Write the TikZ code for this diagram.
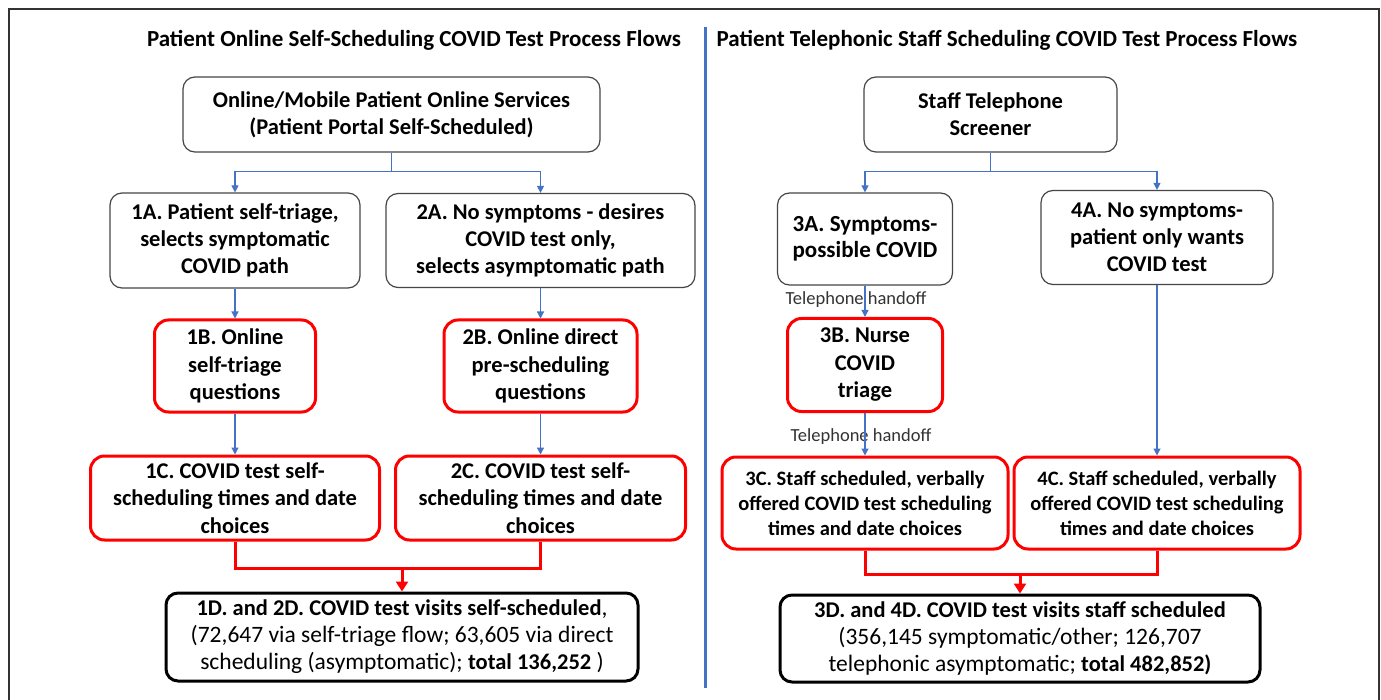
\documentclass[tikz,border=0pt]{standalone}
\usepackage{fontspec}
\setmainfont{Carlito}
\usetikzlibrary{arrows.meta}
\definecolor{blueln}{RGB}{68,114,196}
\definecolor{redln}{RGB}{255,0,0}
\definecolor{grayln}{RGB}{70,70,70}
\newcommand{\bfpart}[1]{{\fontsize{22.5pt}{27pt}\selectfont\bfseries #1}}
\begin{document}
\begin{tikzpicture}[x=1pt,y=-1pt,
  boxbase/.style={rounded corners=12pt, inner sep=0pt, align=center, text=black},
  gbox/.style={boxbase, draw=grayln, line width=1.2pt, font=\fontsize{22.5pt}{27pt}\selectfont\bfseries},
  rbox/.style={boxbase, draw=redln, line width=3pt, rounded corners=14pt, font=\fontsize{22.5pt}{27.5pt}\selectfont\bfseries},
  rboxs/.style={rbox, font=\fontsize{20.5pt}{25pt}\selectfont\bfseries},
  kbox/.style={boxbase, draw=black, line width=3pt, font=\fontsize{23.5pt}{27pt}\selectfont},
  titletext/.style={font=\fontsize{23pt}{27pt}\selectfont\bfseries, inner sep=0pt},
  handoff/.style={font=\fontsize{18.5pt}{21pt}\selectfont, text=black!80, inner sep=0pt},
  bluearrow/.style={draw=blueln, line width=1.2pt, -{Triangle[width=7pt,length=7pt]}},
  redline/.style={draw=redln, line width=3pt},
  redarrow/.style={draw=redln, line width=3pt, -{Triangle[width=12pt,length=10pt]}}
]
\useasboundingbox (0,0) rectangle (1381,700);
\fill[white] (0,0) rectangle (1381,700);
% frame
\draw[black!80, line width=2pt] (9,700) -- (9,9) -- (1379,9) -- (1379,700);
% divider
\draw[blueln, line width=3pt] (705,27) -- (705,688);
% titles
\node[titletext] (titleL) at (414,40) {Patient Online Self-Scheduling COVID Test Process Flows};
\node[titletext] (titleR) at (1007,40) {Patient Telephonic Staff Scheduling COVID Test Process Flows};

% left column
\node[gbox, minimum width=417pt, minimum height=75pt] (topL) at (391.5,114.5)
  {Online/Mobile Patient Online Services\\(Patient Portal Self-Scheduled)};
\node[gbox, minimum width=250pt, minimum height=95pt] (n1A) at (235,240.5)
  {1A. Patient self-triage,\\selects symptomatic\\COVID path};
\node[gbox, minimum width=309pt, minimum height=94pt] (n2A) at (540.5,240.5)
  {2A. No symptoms - desires\\COVID test only,\\selects asymptomatic path};
\node[rbox, minimum width=161pt, minimum height=92pt] (n1B) at (235,366)
  {1B. Online\\self-triage\\questions};
\node[rbox, minimum width=193pt, minimum height=92pt] (n2B) at (540.5,366)
  {2B. Online direct\\pre-scheduling\\questions};
\node[rbox, minimum width=289pt, minimum height=84pt] (n1C) at (235,498)
  {1C. COVID test self-\\scheduling times and date\\choices};
\node[rbox, minimum width=290pt, minimum height=84pt] (n2C) at (540.5,498)
  {2C. COVID test self-\\scheduling times and date\\choices};
\node[kbox, minimum width=472pt, minimum height=88pt] (n1D) at (402,637)
  {\bfpart{1D. and 2D. COVID test visits self-scheduled},\\(72,647 via self-triage flow; 63,605 via direct\\scheduling (asymptomatic); \bfpart{total 136,252} )};

% right column
\node[gbox, minimum width=253pt, minimum height=75pt] (topR) at (990.5,114.5)
  {Staff Telephone\\Screener};
\node[gbox, minimum width=175pt, minimum height=92pt, font=\fontsize{23pt}{26pt}\selectfont\bfseries] (n3A) at (865,239)
  {3A. Symptoms-\\possible COVID};
\node[gbox, minimum width=232pt, minimum height=94pt] (n4A) at (1157,237.5)
  {4A. No symptoms-\\patient only wants\\COVID test};
\node[rbox, minimum width=155pt, minimum height=93pt] (n3B) at (865,365)
  {3B. Nurse\\COVID\\triage};
\node[rboxs, minimum width=286pt, minimum height=92pt] (n3C) at (865,503)
  {3C. Staff scheduled, verbally\\offered COVID test scheduling\\times and date choices};
\node[rboxs, minimum width=286pt, minimum height=92pt] (n4C) at (1157,503)
  {4C. Staff scheduled, verbally\\offered COVID test scheduling\\times and date choices};
\node[kbox, minimum width=480pt, minimum height=87pt] (n3D) at (1020,638.5)
  {\bfpart{3D. and 4D. COVID test visits staff scheduled}\\(356,145 symptomatic/other; 126,707\\telephonic asymptomatic; \bfpart{total 482,852)}};

% handoff labels
\node[handoff] (ho1) at (856,300) {Telephone handoff};
\node[handoff] (ho2) at (861,437) {Telephone handoff};

% left connectors
\draw[bluearrow] (topL.south) -- ++(0,19) -| (n1A.north);
\draw[bluearrow] (topL.south) -- ++(0,19) -| (n2A.north);
\draw[bluearrow] (n1A.south) -- (n1B.north);
\draw[bluearrow] (n2A.south) -- (n2B.north);
\draw[bluearrow] (n1B.south) -- (n1C.north);
\draw[bluearrow] (n2B.south) -- (n2C.north);
\draw[redline] (n1C.south) -- ++(0,27) coordinate (mL) -| (n2C.south);
\coordinate (mLa) at (n1D.north |- mL);
\draw[redarrow] (mLa) -- (n1D.north);

% right connectors
\draw[bluearrow] (topR.south) -- ++(0,19) -| (n3A.north);
\draw[bluearrow] (topR.south) -- ++(0,19) -| (n4A.north);
\draw[bluearrow] (n3A.south) -- (n3B.north);
\draw[bluearrow] (n3B.south) -- (n3C.north);
\draw[bluearrow] (n4A.south) -- (n4C.north);
\draw[redline] (n3C.south) -- ++(0,24) coordinate (mR) -| (n4C.south);
\coordinate (mRa) at (n3D.north |- mR);
\draw[redarrow] (mRa) -- (n3D.north);
\end{tikzpicture}
\end{document}
